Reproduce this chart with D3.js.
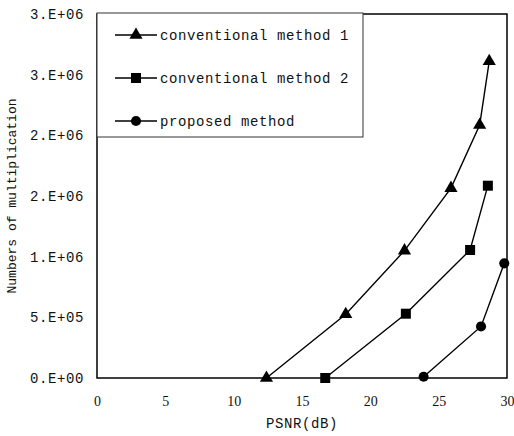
<!DOCTYPE html>
<html>
<head>
<meta charset="utf-8">
<script src="https://cdn.jsdelivr.net/npm/d3@7"></script>
<style>
  body { margin: 0; background: #fff; }
  svg text { font-family: "Liberation Mono", "DejaVu Sans Mono", monospace; fill: #111; }
</style>
</head>
<body>
<div id="chart"></div>
<script>
// series
var psnr1 = [12.4, 18.2, 22.5, 25.9, 28.0, 28.7];
var mult1 = [0, 525000, 1050000, 1565000, 2085000, 2610000];
var psnr2 = [16.7, 22.6, 27.3, 28.6];
var mult2 = [0, 530000, 1055000, 1585000];
var psnr3 = [23.9, 28.1, 29.8];
var mult3 = [10000, 425000, 945000];

var seriesNames = ["conventional method 1", "conventional method 2", "proposed method"];
var xTicks = [0, 5, 10, 15, 20, 25, 30];
var yTicks = [0, 500000, 1000000, 1500000, 2000000, 2500000, 3000000];
var yTickLabels = ["0.E+00", "5.E+05", "1.E+06", "2.E+06", "2.E+06", "3.E+06", "3.E+06"];

var width = 514, height = 436;
var margin = {top: 14, right: 7, bottom: 58, left: 97};

var svg = d3.select("#chart")
  .append("svg")
    .attr("width", width)
    .attr("height", height);

var x = d3.scaleLinear()
  .domain([0, 30])
  .range([margin.left, width - margin.right]);

var y = d3.scaleLinear()
  .domain([0, 3000000])
  .range([height - margin.bottom, margin.top]);

// frame
svg.append("rect")
  .attr("x", x(0))
  .attr("y", y(3000000))
  .attr("width", x(30) - x(0))
  .attr("height", y(0) - y(3000000))
  .attr("fill", "none")
  .attr("stroke", "#000")
  .attr("stroke-width", 1.5);

// X axis
var xAxis = svg.append("g")
  .attr("transform", "translate(0," + y(0) + ")")
  .call(d3.axisBottom(x).tickValues(xTicks).tickSize(0).tickPadding(18));
xAxis.select(".domain").remove();
xAxis.selectAll("text")
  .style("font-size", "14px")
  .style("font-family", "Liberation Serif, serif");

// Y axis
var yAxis = svg.append("g")
  .attr("transform", "translate(" + x(0) + ",0)")
  .call(d3.axisLeft(y).tickValues(yTicks)
    .tickFormat(function(d, i) { return yTickLabels[i]; })
    .tickSize(0).tickPadding(13));
yAxis.select(".domain").remove();
yAxis.selectAll("text")
  .style("font-size", "14px")
  .style("letter-spacing", "0.6px");

// axis titles
svg.append("text")
  .attr("x", (x(0) + x(30)) / 2)
  .attr("y", 428)
  .attr("text-anchor", "middle")
  .style("font-size", "14px")
  .style("letter-spacing", "0.6px")
  .text("PSNR(dB)");

svg.append("text")
  .attr("transform", "translate(16," + (y(0) + y(3000000)) / 2 + ")rotate(-90)")
  .attr("text-anchor", "middle")
  .style("font-size", "13px")
  .text("Numbers of multiplication");

// series
var series = [
  {name: seriesNames[0], xs: psnr1, ys: mult1, sym: d3.symbolTriangle, size: 75},
  {name: seriesNames[1], xs: psnr2, ys: mult2, sym: d3.symbolSquare, size: 100},
  {name: seriesNames[2], xs: psnr3, ys: mult3, sym: d3.symbolCircle, size: 80}
];

var line = d3.line()
  .x(function(d) { return x(d[0]); })
  .y(function(d) { return y(d[1]); });

series.forEach(function(s) {
  var pts = s.xs.map(function(v, i) { return [v, s.ys[i]]; });
  svg.append("path")
    .datum(pts)
    .attr("d", line)
    .attr("fill", "none")
    .attr("stroke", "#000")
    .attr("stroke-width", 1.4);
  svg.selectAll(null)
    .data(pts)
    .enter()
    .append("path")
      .attr("d", d3.symbol().type(s.sym).size(s.size))
      .attr("transform", function(d) { return "translate(" + x(d[0]) + "," + y(d[1]) + ")"; })
      .attr("fill", "#000");
});

// legend
var legend = svg.append("g");
legend.append("rect")
  .attr("x", 97)
  .attr("y", 13)
  .attr("width", 266)
  .attr("height", 124)
  .attr("fill", "#fff")
  .attr("stroke", "#333")
  .attr("stroke-width", 1);

series.forEach(function(s, i) {
  var ly = 35 + i * 43;
  legend.append("line")
    .attr("x1", 115).attr("x2", 157)
    .attr("y1", ly).attr("y2", ly)
    .attr("stroke", "#000")
    .attr("stroke-width", 1.6);
  legend.append("path")
    .attr("d", d3.symbol().type(s.sym).size(s.size))
    .attr("transform", "translate(136," + ly + ")")
    .attr("fill", "#000");
  legend.append("text")
    .attr("x", 160)
    .attr("y", ly)
    .attr("dy", "0.35em")
    .style("font-size", "14px")
    .style("letter-spacing", "0.6px")
    .text(s.name);
});
</script>
</body>
</html>
